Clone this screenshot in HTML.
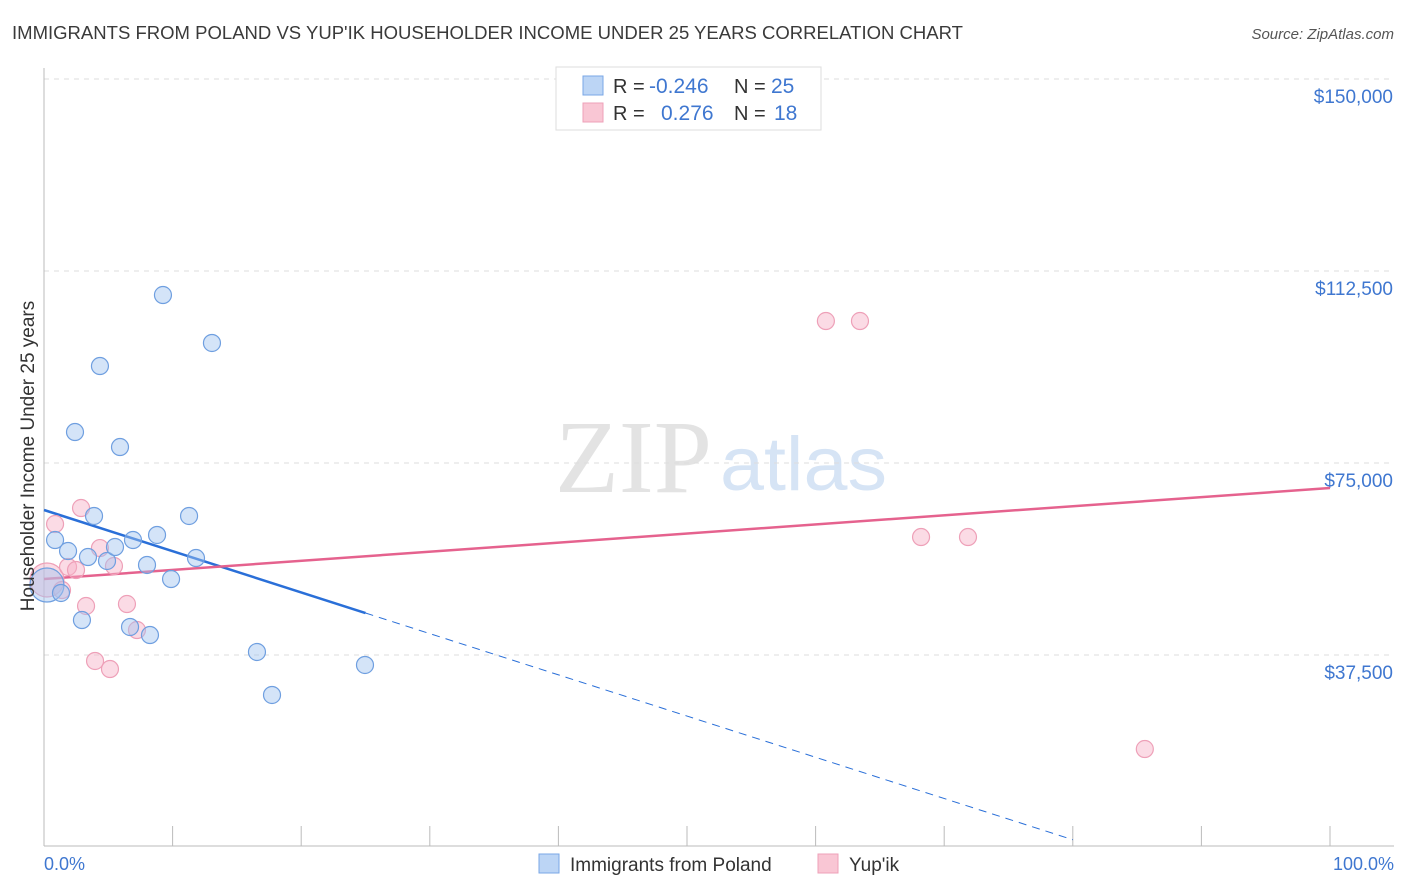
<!DOCTYPE html>
<html><head><meta charset="utf-8">
<style>
body{margin:0;background:#fff;font-family:"Liberation Sans",sans-serif;}
svg{display:block}
</style></head>
<body>
<svg id="chart" width="1406" height="892" xmlns="http://www.w3.org/2000/svg">
<text x="12" y="39" font-size="18" fill="#3a3a3a" textLength="951" lengthAdjust="spacingAndGlyphs">IMMIGRANTS FROM POLAND VS YUP'IK HOUSEHOLDER INCOME UNDER 25 YEARS CORRELATION CHART</text>
<text x="1394" y="39" font-size="15" fill="#555" font-style="italic" text-anchor="end">Source: ZipAtlas.com</text>
<g>
<text x="555" y="492" font-size="104" fill="#e3e3e3" textLength="157" lengthAdjust="spacingAndGlyphs" font-family="Liberation Serif,serif">ZIP</text>
<text x="720" y="490" font-size="76" fill="#d6e4f5" textLength="167" lengthAdjust="spacingAndGlyphs">atlas</text>
</g>
<g id="grid"></g>
<g id="axes"></g>
<g id="trends"></g>
<g id="points"></g>
<text transform="translate(34,456) rotate(-90)" font-size="19" fill="#333" text-anchor="middle">Householder Income Under 25 years</text>
<text x="44" y="870" font-size="18" fill="#3f77d0">0.0%</text>
<text x="1394" y="870" font-size="18" fill="#3f77d0" text-anchor="end">100.0%</text>
<g>
<rect x="556" y="67" width="265" height="63" fill="#fff" stroke="#ddd"/>
<rect x="583" y="76" width="20" height="19" fill="#bcd5f5" stroke="#7aa7e6"/>
<rect x="583" y="103" width="20" height="19" fill="#f9c6d4" stroke="#eea0b8"/>
<text x="613" y="93" font-size="20" fill="#333">R = <tspan x="649" fill="#3f77d0" font-size="21">-0.246</tspan><tspan x="734">N = </tspan><tspan x="771" fill="#3f77d0" font-size="21">25</tspan></text>
<text x="613" y="120" font-size="20" fill="#333">R = <tspan x="661" fill="#3f77d0" font-size="21">0.276</tspan><tspan x="734">N = </tspan><tspan x="774" fill="#3f77d0" font-size="21">18</tspan></text>
</g>
<g>
<rect x="539" y="854" width="20" height="19" fill="#bcd5f5" stroke="#7aa7e6"/>
<text x="570" y="871" font-size="19" fill="#333">Immigrants from Poland</text>
<rect x="818" y="854" width="20" height="19" fill="#f9c6d4" stroke="#eea0b8"/>
<text x="849" y="871" font-size="19" fill="#333">Yup'ik</text>
</g>
</svg>
<script>
const yTicks=[37500,75000,112500,150000];
const yTickLabels=["$37,500","$75,000","$112,500","$150,000"];
const polandX=[0.23,0.86,1.32,1.87,2.41,2.95,3.42,3.89,4.35,4.9,5.52,5.91,6.69,6.92,8.01,8.24,8.79,9.25,9.88,11.28,11.82,13.06,16.56,17.73,24.96];
const polandY=[51170,59960,49610,57810,81050,44330,56640,64650,93940,55860,58590,78120,42970,59960,55080,41400,60940,107810,52340,64650,56440,98440,38090,29690,35550];
const yupikX=[0.23,0.86,1.4,1.87,2.49,2.88,3.27,3.97,4.35,5.13,5.44,6.45,7.23,60.8,63.45,68.2,71.85,85.6];
const yupikY=[52150,63080,50190,54690,54100,66210,47070,36330,58390,34760,54880,47460,42380,102730,102730,60540,60540,19140];
const polandTrendX=[0,25,80];
const polandTrendY=[65820,45700,1420];
const yupikTrendX=[0,100];
const yupikTrendY=[52340,70110];

const NS="http://www.w3.org/2000/svg";
const xs=p=>44+p*12.86;
const ys=v=>847-v/37500*192;
function mk(tag,attrs,parent){const e=document.createElementNS(NS,tag);for(const k in attrs)e.setAttribute(k,attrs[k]);parent.appendChild(e);return e;}
const grid=document.getElementById('grid'),axes=document.getElementById('axes'),trends=document.getElementById('trends'),pts=document.getElementById('points');
yTicks.forEach((t,i)=>{
  const l=mk('line',{x1:44,x2:1394,y1:ys(t),y2:ys(t),stroke:'#ddd','stroke-dasharray':'5,5'},grid);
  
  
  const tx=mk('text',{x:1393,y:ys(t)+24,'font-size':19,fill:'#3f77d0','text-anchor':'end'},grid);
  tx.textContent=yTickLabels[i];
  
  
});
const yl=mk('line',{x1:44,x2:44,y1:68,y2:846,stroke:'#bbb'},axes);


const xl=mk('line',{x1:44,x2:1394,y1:846,y2:846,stroke:'#bbb'},axes);


for(let i=1;i<=10;i++){
  const t=mk('line',{x1:xs(i*10),x2:xs(i*10),y1:826,y2:846,stroke:'#bbb'},axes);
  
  
}
function drawPts(X,Y,fill,stroke,name){
  X.forEach((x,i)=>{
    const c=mk('circle',{cx:xs(x),cy:ys(Y[i]),r:i===0?17:8.5,fill:fill,stroke:stroke,'stroke-width':1.2},pts);
    
    
  });
}
drawPts(yupikX,yupikY,'rgba(246,176,198,0.45)','#eea0b8','yupik-point');
drawPts(polandX,polandY,'rgba(160,196,240,0.45)','#6f9fe0','poland-point');
const ps=mk('line',{x1:xs(polandTrendX[0]),y1:ys(polandTrendY[0]),x2:xs(polandTrendX[1]),y2:ys(polandTrendY[1]),stroke:'#2a6fd8','stroke-width':2.5},trends);


const pd=mk('line',{x1:xs(polandTrendX[1]),y1:ys(polandTrendY[1]),x2:xs(polandTrendX[2]),y2:ys(polandTrendY[2]),stroke:'#2a6fd8','stroke-width':1,'stroke-dasharray':'8,6'},trends);


const yt=mk('line',{x1:xs(yupikTrendX[0]),y1:ys(yupikTrendY[0]),x2:xs(yupikTrendX[1]),y2:ys(yupikTrendY[1]),stroke:'#e5628e','stroke-width':2.5},trends);


</script>
</body></html>
